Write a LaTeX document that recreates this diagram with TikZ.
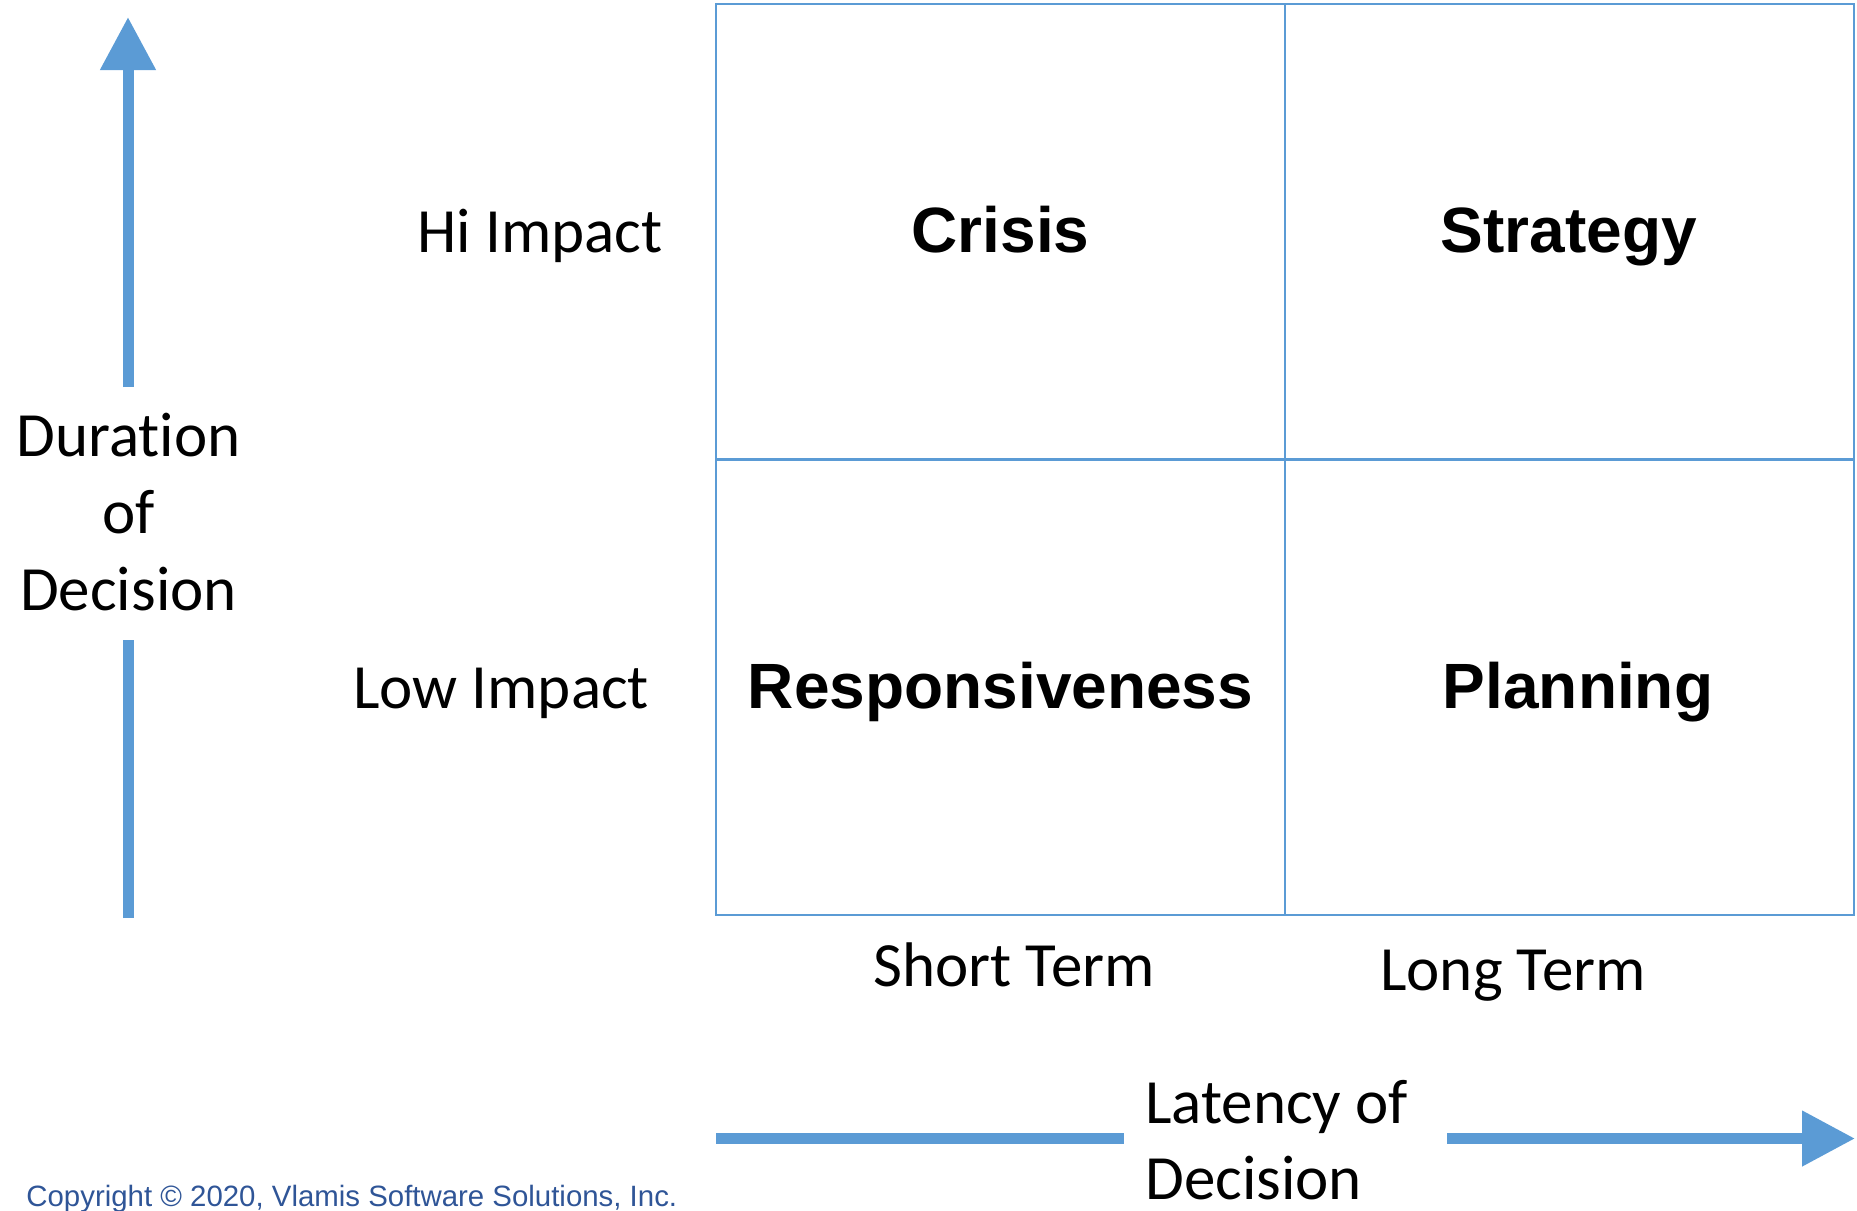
\documentclass[tikz,border=0pt]{standalone}
\usepackage{fontspec}
\setmainfont{Carlito}[Ligatures=NoCommon]
\newfontfamily\arial{Liberation Sans}
\usetikzlibrary{arrows.meta}
\definecolor{eixos}{HTML}{5B9BD5}
\definecolor{drets}{HTML}{2F5597}
\tikzset{
  cella/.style={draw=eixos, line width=1pt, minimum width=284.5pt, minimum height=227.75pt,
    inner sep=0pt, outer sep=0pt, font=\arial\bfseries\fontsize{32}{38}\selectfont,
    text height=20.5pt, text depth=0pt},
  eix/.style={draw=eixos, line width=5.5pt},
  fletxa/.style={-{Triangle[width=26.5pt,length=26.5pt]}},
  etiqueta/.style={font=\fontsize{31.5}{38.5}\selectfont, inner sep=0pt},
}

\begin{document}
\begin{tikzpicture}[x=0.5pt,y=-0.5pt]
  \useasboundingbox (0,0) rectangle (1857,1210);

  % quadrants
  \node[cella] (crisi)     at (1000.5,231.5) {Crisis};
  \node[cella] (estrategia) at (1569,231.5)  {Strategy};
  \node[cella] (resposta)  at (1000.5,687.5) {Responsiveness};
  \node[cella] (planif)    at (1569,687.5)   {\hspace*{9pt}Planning};

  % row and column labels
  \node[etiqueta, anchor=base] (alt)   at (540,252)  {Hi Impact};
  \node[etiqueta, anchor=base] (baix)  at (501,708)  {Low Impact};
  \node[etiqueta, anchor=base] (curt)  at (1014,986) {Short Term};
  \node[etiqueta, anchor=base] (llarg) at (1513,990) {Long Term};

  % vertical axis
  \coordinate (vbaix) at (128,918);
  \coordinate (vmig1) at (128,640);
  \coordinate (vmig2) at (128,387);
  \coordinate (vdalt) at (128,17);
  \draw[eix] (vbaix) -- (vmig1);
  \draw[eix, fletxa] (vmig2) -- (vdalt);
  \node[etiqueta, align=center, anchor=base] (durada) at (128.5,610)
    {Duration\\of\\Decision};

  % horizontal axis
  \coordinate (hesq) at (716,1138.5);
  \coordinate (hmig1) at (1124,1138.5);
  \coordinate (hmig2) at (1447,1138.5);
  \coordinate (hdreta) at (1855,1138.5);
  \draw[eix] (hesq) -- (hmig1);
  \draw[eix, fletxa] (hmig2) -- (hdreta);
  \node[etiqueta, align=left, anchor=base west, font=\fontsize{31.5}{38}\selectfont]
    (latencia) at (1145,1199) {Latency of\\Decision};

  \node[anchor=base west, inner sep=0pt, text=drets, font=\arial\fontsize{14.7}{17}\selectfont]
    (copyright) at (26,1206) {Copyright © 2020, Vlamis Software Solutions, Inc.};
\end{tikzpicture}
\end{document}
